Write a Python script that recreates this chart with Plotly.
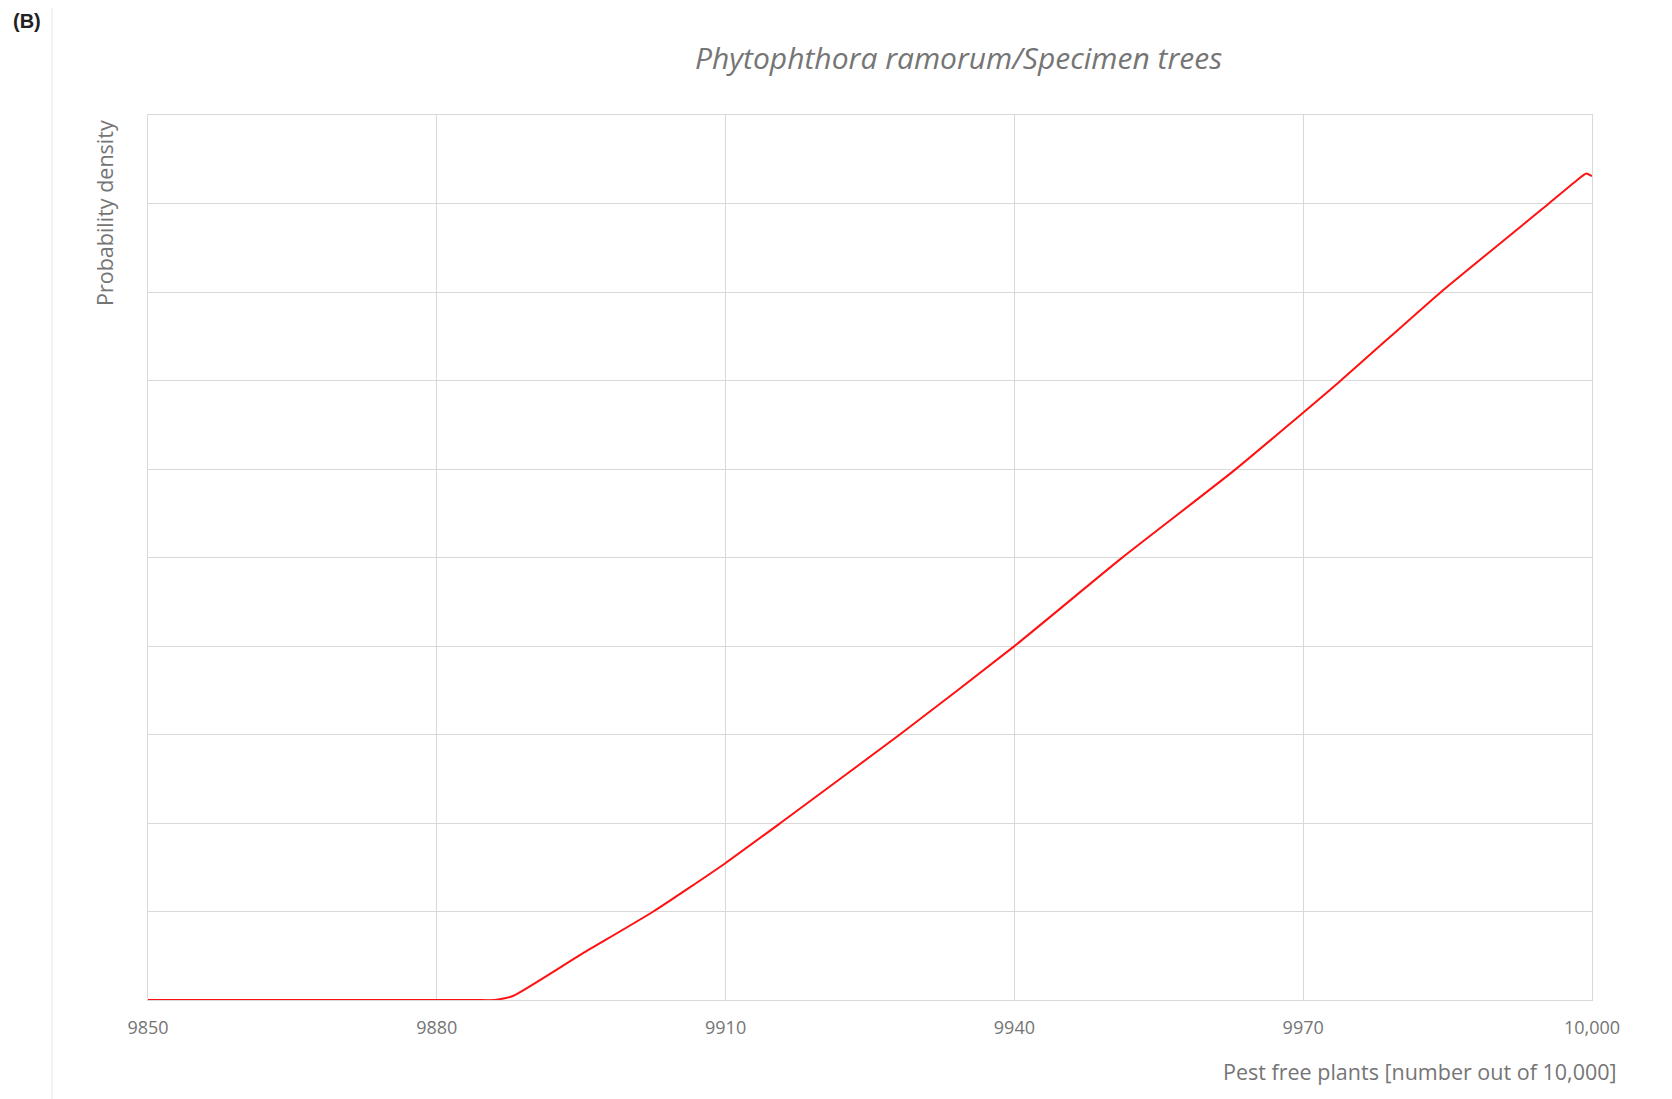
import plotly.graph_objects as go

# Curve values (arbitrary density units, axis has no labels)
pest_free = [9850, 9870, 9884, 9886.0, 9887.9, 9894.9, 9902.5, 9909.9, 9915.7, 9928.1, 9939.9,
             9951.1, 9962.9, 9973.8, 9984.2, 9995.3, 9998.4, 9999.4, 10000]
density = [0, 0, 0, 0, 0.045, 0.51, 1.0, 1.54, 2.0, 3.0, 3.99,
           4.99, 5.99, 6.99, 7.99, 8.98, 9.26, 9.34, 9.31]

x_tick_vals = [9850, 9880, 9910, 9940, 9970, 10000]
x_tick_text = ["9850", "9880", "9910", "9940", "9970", "10,000"]

title_text = "Phytophthora ramorum/Specimen trees"
x_title = "Pest free plants [number out of 10,000]"
y_title = "Probability density"
panel_label = "(B)"

grid = "#d9d9d9"
gray = "#757575"
font = "Open Sans"

# page body has an 8px margin; compensate so the plot area sits at 148..1592 x 114..1000
OFF = 8
PL, PR, PT, PB = 148, 1592, 115, 1000
PW, PH = PR - PL, PB - PT

fig = go.Figure()
fig.add_trace(go.Scatter(x=pest_free, y=density, mode="lines",
                         line=dict(color="#ff1111", width=2, shape="spline", smoothing=0.5),
                         showlegend=False, hoverinfo="skip", cliponaxis=False))

fig.update_layout(
    width=1672, height=1099,
    margin=dict(l=PL - OFF, r=1672 - PR + OFF, t=PT - OFF, b=1099 - PB + OFF),
    paper_bgcolor="white", plot_bgcolor="white",
    font=dict(family=font, color=gray),
    xaxis=dict(range=[9850, 10000], tickvals=x_tick_vals, ticktext=x_tick_text,
               showgrid=True, gridcolor=grid, gridwidth=1, zeroline=False,
               showline=True, mirror=True, linecolor=grid, linewidth=1,
               ticks="", tickfont=dict(size=18, color=gray, family=font), ticklabelstandoff=11),
    yaxis=dict(range=[0, 10], dtick=1, showticklabels=False,
               showgrid=True, gridcolor=grid, gridwidth=1, zeroline=False,
               showline=True, mirror=True, linecolor=grid, linewidth=1, ticks=""),
)

def px(x):
    return (x - PL) / PW

def py(y):
    return (PB - y) / PH

fig.add_annotation(text=f"<i>{title_text}</i>", xref="paper", yref="paper",
                   x=px(958), y=py(57), xanchor="center", yanchor="middle", showarrow=False,
                   font=dict(size=30, color=gray, family=font))
fig.add_annotation(text=x_title, xref="paper", yref="paper",
                   x=px(1619), y=py(1071), xanchor="right", yanchor="middle", showarrow=False,
                   font=dict(size=21.5, color=gray, family=font))
fig.add_annotation(text=y_title, xref="paper", yref="paper",
                   x=px(105), y=py(118), textangle=-90,
                   xanchor="center", yanchor="top", showarrow=False,
                   font=dict(size=21.5, color=gray, family=font))
fig.add_annotation(text=f"<b>{panel_label}</b>", xref="paper", yref="paper",
                   x=px(11), y=py(21), xanchor="left", yanchor="middle", showarrow=False,
                   font=dict(size=20, color="#222222", family="Liberation Sans"))

# outer chart border
fig.add_shape(type="rect", xref="paper", yref="paper",
              x0=px(52), x1=1.3, y0=-0.3, y1=py(3),
              line=dict(color="#e3e3e3", width=1), layer="below")

fig.write_html("out.html")
